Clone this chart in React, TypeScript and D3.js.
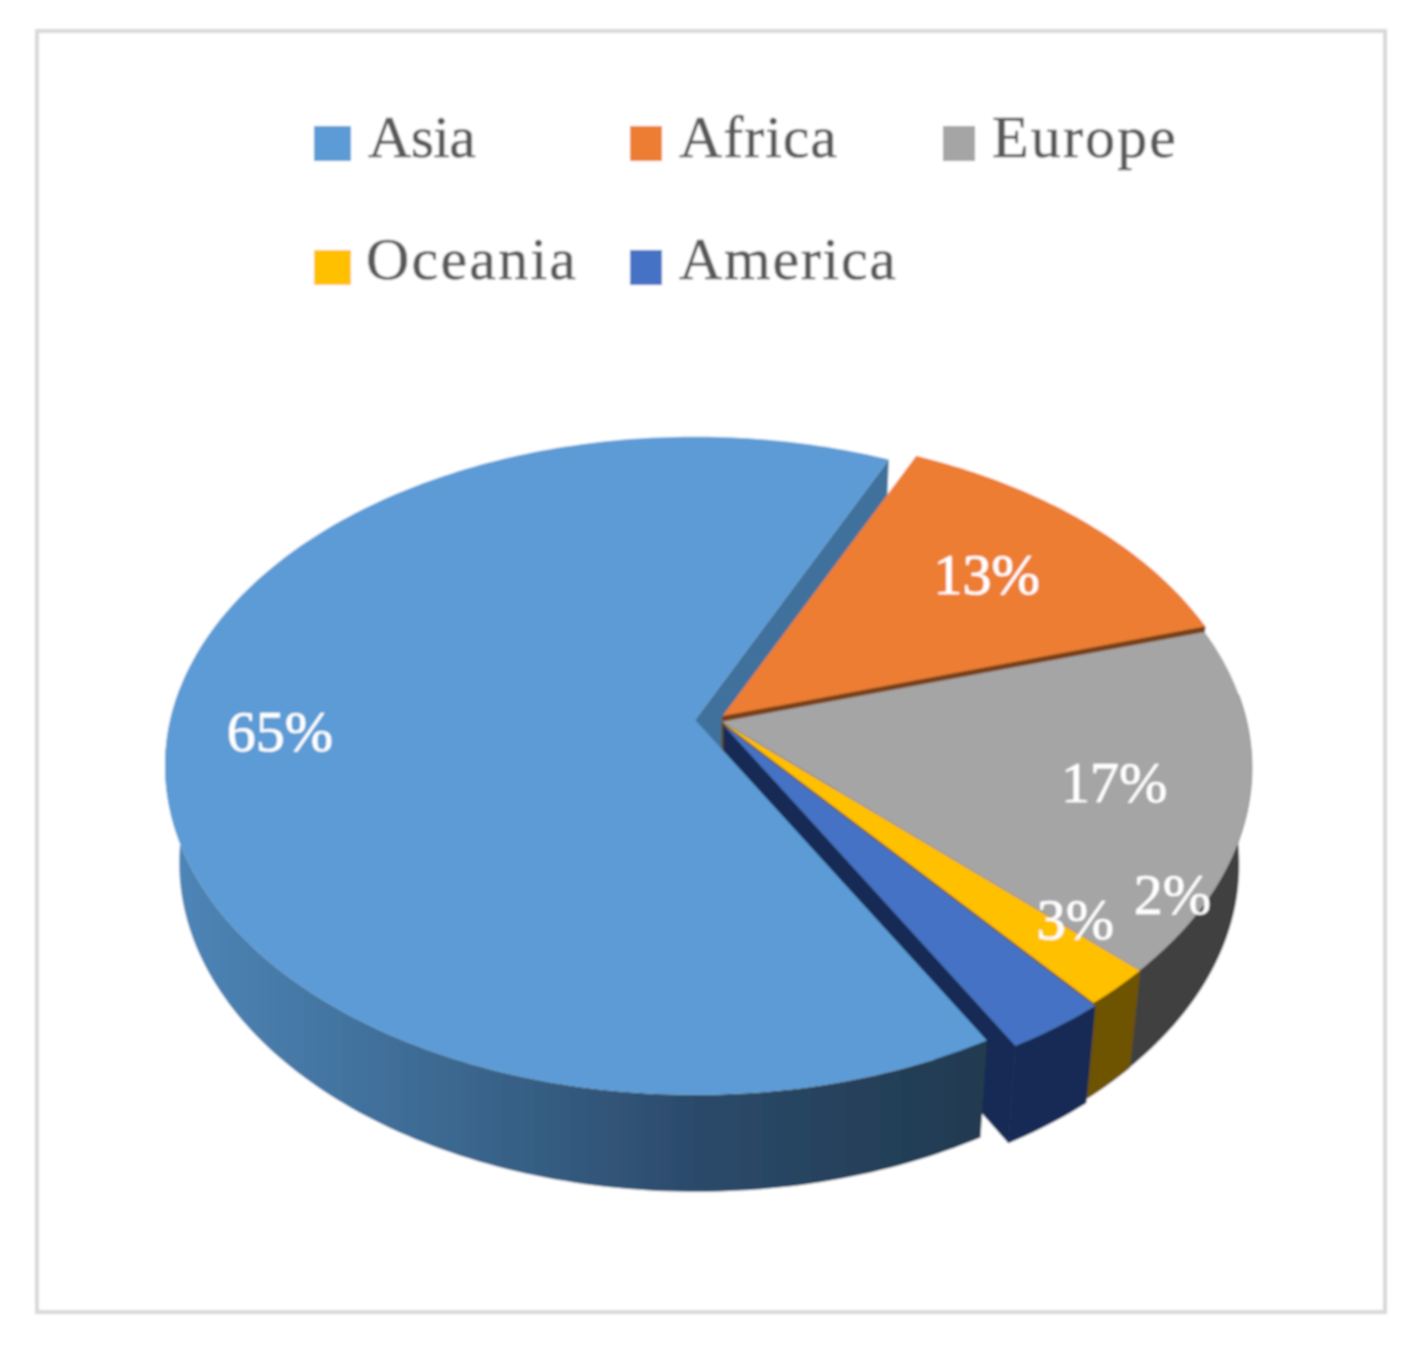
import * as d3 from "d3";

// chart data (labels show these rounded)
const regions = ["Asia", "Africa", "Europe", "Oceania", "America"];
const shares = [64.95, 13.49, 16.91, 1.9, 2.75];

// look of each slice, same order as regions
const topColors = ["#5B9BD5", "#ED7D31", "#A5A5A5", "#FFC000", "#4472C4"];
const wallColors = ["#41719C", "#7A3F12", "#404040", "#6E5200", "#172B55"];
const exploded = [23, 6, 4, 6, 10];
const nudgeY = [0, 0, 2, 0, 0];
const labelRadius = [0.788, 0.712, 0.751, 0.94, 0.83];
const labelTurn = [-0.2, 0, 0.6, -15.6, -14];

// legend widths as in the picture, the text is stretched a bit there
const legendTextWidth = [108, 158, 184, 210, 217];
const legendSwatchWidth = [37, 32, 32, 37, 32];

const width = 1413;
const height = 1345;

// camera of the fake 3d pie
const cx = 718;
const cy = 719;
const a = 322.6;
const b = 524.8;
const k = 0.14;
const depth = 97;
const vanishX = 733;
const shrink = 0.975;
const startDeg = 24.6 - shares[0] * 3.6;

type Pt = [number, number];

const rad = (deg: number) => (deg * Math.PI) / 180;

// disc coordinates -> screen
const project = (angle: number, r: number): Pt => {
  const u = r * Math.sin(angle);
  const v = -r * Math.cos(angle);
  const w = 1 - k * v;
  return [cx + (b * u) / w, cy + (a * v) / w];
};

const drop = ([x, y]: Pt): Pt => [vanishX + shrink * (x - vanishX), y + depth];

const line = d3.line<Pt>();

const arcs = d3
  .pie<number>()
  .sort(null)
  .startAngle(rad(startDeg))
  .endAngle(rad(startDeg + 360))(shares);

const slices = arcs.map((d, i) => {
  const mid = (d.startAngle + d.endAngle) / 2;
  const ox = exploded[i] * Math.sin(mid);
  const oy = -exploded[i] * Math.cos(mid) * 0.75 + nudgeY[i];
  const shift = ([x, y]: Pt): Pt => [x + ox, y + oy];
  const steps = Math.max(4, Math.ceil((d.endAngle - d.startAngle) / rad(1)));
  const angles = d3
    .range(steps + 1)
    .map((s) => d.startAngle + ((d.endAngle - d.startAngle) * s) / steps);
  const rim = angles.map((t) => shift(project(t, 1)));
  // only the near half of the rim has a wall you can see
  const nearRim = angles
    .filter((t) => Math.cos(t) < 0.1)
    .map((t) => shift(project(t, 1)));
  const apex = shift(project(0, 0));
  const last = rim[rim.length - 1];
  return {
    name: regions[i],
    top: line([apex, ...rim])! + "Z",
    outer: line([...nearRim, ...nearRim.map(drop).reverse()])! + "Z",
    endWall: line([apex, last, drop(last), drop(apex)])! + "Z",
    topColor: topColors[i],
    wallColor: wallColors[i],
    label: shift(project(mid + rad(labelTurn[i]), labelRadius[i])),
    value: shares[i],
  };
});

const asia = slices[0];
const others = slices.slice(1);

const legendCol = d3.scaleLinear().domain([0, 1]).range([314, 630]);
const legendColX = (i: number) => (i % 3 === 2 ? 943 : legendCol(i % 3));

export default function App() {
  return (
    <svg
      width={width}
      height={height}
      viewBox={`0 0 ${width} ${height}`}
      style={{ position: "absolute", left: 0, top: 0, display: "block" }}
    >
      <defs>
        <linearGradient
          id="asiaWall"
          gradientUnits="userSpaceOnUse"
          x1={170}
          x2={985}
          y1={0}
          y2={0}
        >
          <stop offset="0" stopColor="#4E86B8" />
          <stop offset="0.3" stopColor="#3E6C95" />
          <stop offset="0.65" stopColor="#2B4A6A" />
          <stop offset="1" stopColor="#213A50" />
        </linearGradient>
        <filter
          id="soft"
          filterUnits="userSpaceOnUse"
          x={0}
          y={0}
          width={width}
          height={height}
        >
          <feGaussianBlur stdDeviation={0.9} />
        </filter>
      </defs>
      <rect width={width} height={height} fill="#fff" />
      <g filter="url(#soft)">
        <rect
          x={37}
          y={31}
          width={1348}
          height={1281}
          fill="#fff"
          stroke="#D9D9D9"
          strokeWidth={4}
        />

        {/* legend */}
        {regions.map((name, i) => {
          const x = legendColX(i);
          const row = i < 3 ? 0 : 1;
          const sw = legendSwatchWidth[i];
          return (
            <g key={name}>
              <rect
                x={x}
                y={126 + row * 124}
                width={sw}
                height={35}
                fill={topColors[i]}
              />
              <text
                x={x + sw + 17 - (i === 3 ? 2 : 0)}
                y={157 + row * 122}
                fontFamily="'Liberation Serif', serif"
                fontSize={60}
                fill="#595959"
                stroke="#595959"
                strokeWidth={0.5}
                textLength={legendTextWidth[i]}
              >
                {name}
              </text>
            </g>
          );
        })}

        {/* asia's far side wall goes under the neighbours */}
        <path d={asia.endWall} fill={asia.wallColor} />

        {others.map((s) => (
          <g key={s.name}>
            <path d={s.endWall} fill={s.wallColor} stroke={s.wallColor} strokeWidth={0.6} />
            <path d={s.outer} fill={s.wallColor} stroke={s.wallColor} strokeWidth={0.6} />
            <path d={s.top} fill={s.topColor} />
          </g>
        ))}

        <path d={asia.outer} fill="url(#asiaWall)" />
        <path d={asia.top} fill={asia.topColor} />

        {/* data labels */}
        {slices.map((s) => (
          <text
            key={s.name}
            x={s.label[0]}
            y={s.label[1]}
            dy="0.34em"
            textAnchor="middle"
            fontFamily="'Liberation Serif', serif"
            fontSize={58}
            fill="#fff"
            stroke="#fff"
            strokeWidth={0.6}
          >
            {Math.round(s.value)}%
          </text>
        ))}
      </g>
    </svg>
  );
}
